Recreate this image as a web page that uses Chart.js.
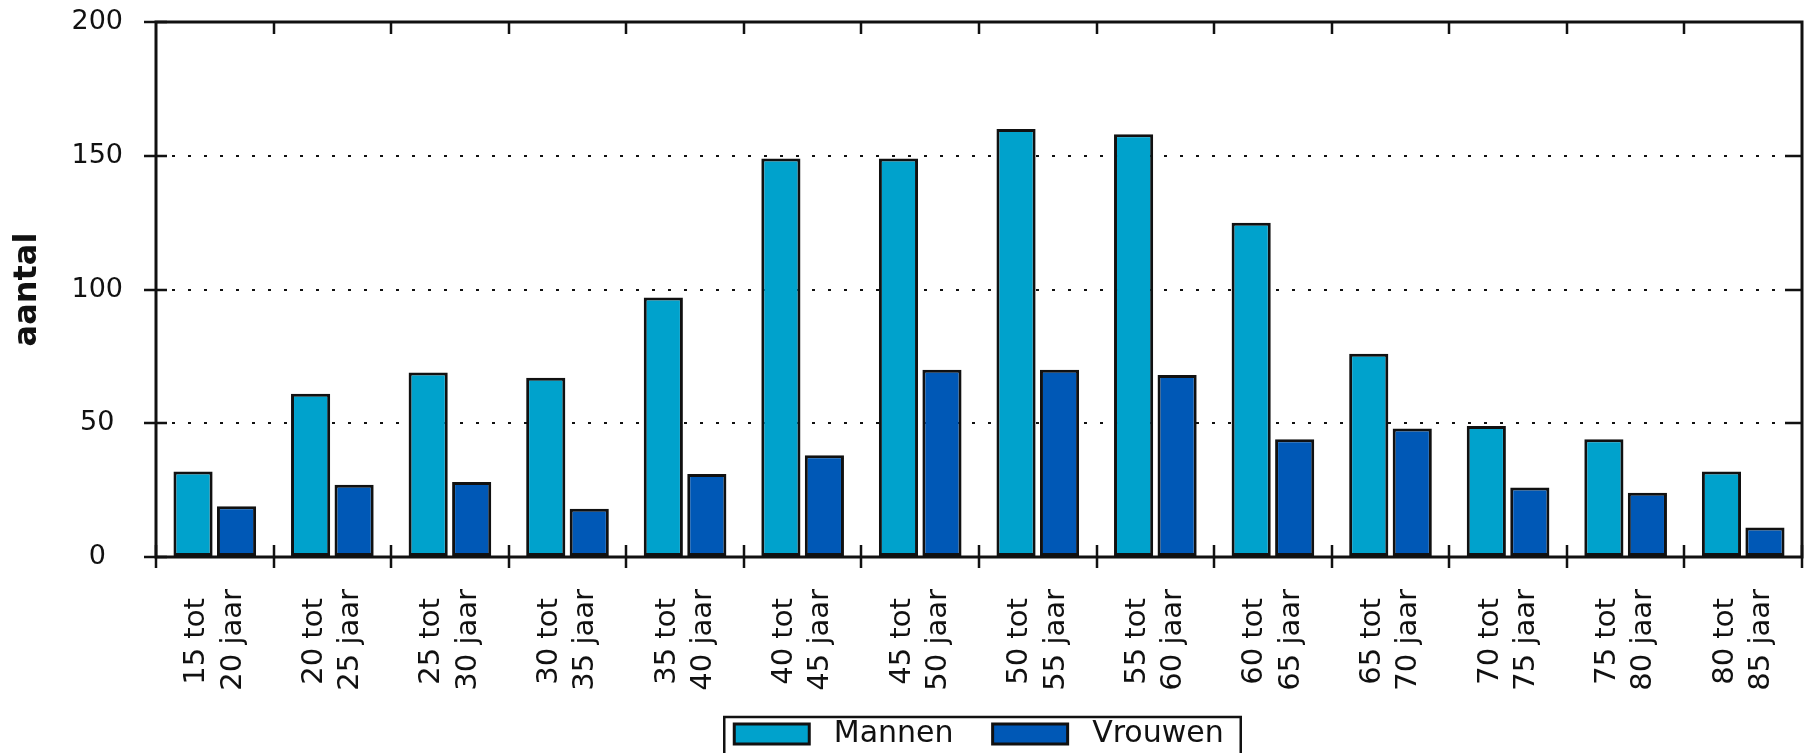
<!DOCTYPE html>
<html>
<head>
<meta charset="utf-8">
<script src="https://cdn.jsdelivr.net/npm/chart.js@4.4.1/dist/chart.umd.min.js"></script>
<style>
  html, body { margin: 0; padding: 0; background: #fff; overflow: hidden; }
  #wrap { position: relative; width: 1811px; height: 759px; }
</style>
</head>
<body>
<div id="wrap"><canvas id="ageChart"></canvas></div>
<script>
// leeftijdsklassen (twee regels per label)
const AGE_LABELS = [
    ['15 tot ', '20 jaar'], ['20 tot ', '25 jaar'], ['25 tot ', '30 jaar'],
    ['30 tot ', '35 jaar'], ['35 tot ', '40 jaar'], ['40 tot ', '45 jaar'],
    ['45 tot ', '50 jaar'], ['50 tot ', '55 jaar'], ['55 tot ', '60 jaar'],
    ['60 tot ', '65 jaar'], ['65 tot ', '70 jaar'], ['70 tot ', '75 jaar'],
    ['75 tot ', '80 jaar'], ['80 tot ', '85 jaar']
];
const MANNEN  = [32, 61, 69, 67, 97, 149, 149, 160, 158, 125, 76, 49, 44, 32];
const VROUWEN = [19, 27, 28, 18, 31, 38, 70, 70, 68, 44, 48, 26, 24, 11];
const Y_TICKS = [0, 50, 100, 150, 200];

const FONT = "'DejaVu Sans', Verdana, sans-serif";
const INK = '#111';

// kader, streepjes op de assen en rand om de legenda
const frameTicks = {
    id: 'frameTicks',
    afterDraw(chart) {
        const { ctx, chartArea: a, scales: { x, y } } = chart;
        ctx.save();
        ctx.strokeStyle = INK;
        ctx.lineWidth = 3;
        ctx.strokeRect(a.left, a.top, a.right - a.left, a.bottom - a.top);

        ctx.lineWidth = 2.5;
        ctx.beginPath();
        Y_TICKS.forEach(v => {
            const py = Math.round(y.getPixelForValue(v));
            ctx.moveTo(a.left - 12, py); ctx.lineTo(a.left + 11, py);
            if (v > Y_TICKS[0] && v < Y_TICKS[Y_TICKS.length - 1]) {
                ctx.moveTo(a.right - 17, py); ctx.lineTo(a.right, py);
            }
        });
        for (let i = 0; i <= AGE_LABELS.length; i++) {
            const px = Math.round(x.getPixelForValue(i - 0.5));
            ctx.moveTo(px, a.bottom - 12); ctx.lineTo(px, a.bottom + 11);
            if (i > 0 && i < AGE_LABELS.length) {
                ctx.moveTo(px, a.top); ctx.lineTo(px, a.top + 12);
            }
        }
        ctx.stroke();

        // legenda-kader: onderkant valt buiten beeld
        const boxes = chart.legend.legendHitBoxes;
        if (boxes && boxes.length) {
            const first = boxes[0];
            const last = boxes[boxes.length - 1];
            const l = first.left - 10;
            const r = last.left + last.width + 17;
            const t = first.top - 2;
            ctx.lineWidth = 2.5;
            ctx.beginPath();
            ctx.moveTo(l, chart.height + 5);
            ctx.lineTo(l, t);
            ctx.lineTo(r, t);
            ctx.lineTo(r, chart.height + 5);
            ctx.stroke();
        }
        ctx.restore();
    }
};

window.onload = function() {
    const ctx = document.getElementById('ageChart').getContext('2d');

    new Chart(ctx, {
        type: 'bar',
        data: {
            labels: AGE_LABELS,
            datasets: [
                {
                    label: ' Mannen  ',
                    data: MANNEN,
                    backgroundColor: '#00a2cc',
                    borderColor: INK,
                    borderWidth: 3,
                    borderSkipped: false
                },
                {
                    label: ' Vrouwen',
                    data: VROUWEN,
                    backgroundColor: '#0058b6',
                    borderColor: INK,
                    borderWidth: 3,
                    borderSkipped: false
                }
            ]
        },
        options: {
            responsive: true,
            maintainAspectRatio: false,
            animation: false,
            categoryPercentage: 0.74,
            barPercentage: 0.9,
            layout: { padding: { top: 22, right: 9, left: 0, bottom: 0 } },
            plugins: {
                tooltip: { enabled: false },
                legend: {
                    position: 'bottom',
                    fullSize: false,
                    labels: {
                        color: INK,
                        font: { family: FONT, size: 30 },
                        boxWidth: 75,
                        boxHeight: 20,
                        padding: 20
                    }
                }
            },
            scales: {
                x: {
                    grid: { display: false },
                    border: { display: false },
                    afterFit: s => {
                        s.height = 142;
                        s.paddingLeft = 0;
                        s.paddingRight = 0;
                    },
                    ticks: {
                        autoSkip: false,
                        maxRotation: 90,
                        minRotation: 90,
                        padding: 24,
                        labelOffset: -18,
                        color: INK,
                        font: { family: FONT, size: 29, lineHeight: 1.25 }
                    }
                },
                y: {
                    min: 0,
                    max: 200,
                    afterFit: s => {
                        s.width = 156;
                        s.paddingTop = 0;
                        s.paddingBottom = 0;
                    },
                    border: { display: false, dash: [3, 13] },
                    grid: {
                        drawTicks: false,
                        lineWidth: 2,
                        color: c => (c.tick && c.tick.value > 0 && c.tick.value < 200) ? INK : 'rgba(0,0,0,0)'
                    },
                    ticks: {
                        stepSize: 50,
                        padding: 33,
                        crossAlign: 'center',
                        color: INK,
                        font: { family: FONT, size: 27 }
                    },
                    title: {
                        display: true,
                        text: 'aantal',
                        color: INK,
                        padding: { top: 8, bottom: 4 },
                        font: { family: FONT, size: 32, weight: 'bold' }
                    }
                }
            }
        },
        plugins: [frameTicks]
    });
};
</script>
</body>
</html>
